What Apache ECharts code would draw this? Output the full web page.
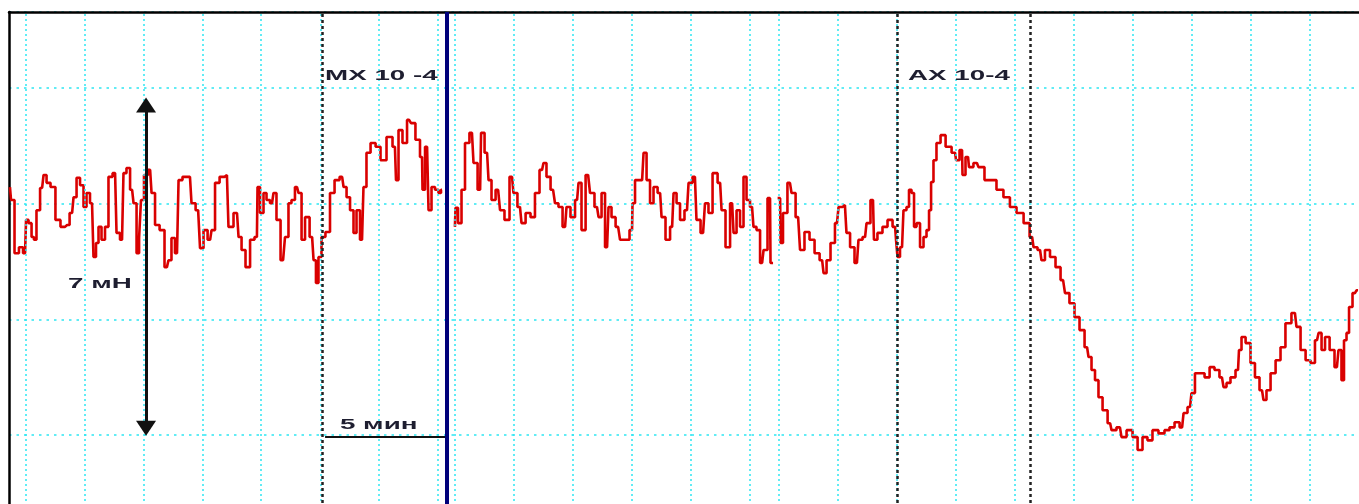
<!DOCTYPE html>
<html><head><meta charset="utf-8">
<script src="https://cdn.jsdelivr.net/npm/echarts@6/dist/echarts.min.js"></script>
<style>html,body{margin:0;padding:0;background:#fff;overflow:hidden;width:1359px;height:504px}#c{width:1359px;height:551px}</style>
</head><body><div id="c"></div>
<script>
// time in minutes, force in mN
const timeA = [
0.04,0.13,0.33,0.5,0.67,0.75,0.88,1.0,1.08,1.21,
1.38,1.5,1.63,1.83,2.04,2.25,2.42,2.63,2.75,2.88,
3.04,3.17,3.29,3.46,3.58,3.67,3.79,3.92,4.08,4.21,
4.42,4.54,4.71,4.83,4.96,5.13,5.25,5.38,5.46,5.54,
5.71,5.88,6.0,6.17,6.38,6.58,6.71,6.83,7.0,7.13,
7.33,7.54,7.67,7.88,8.04,8.17,8.38,8.5,8.67,8.88,
9.08,9.21,9.5,9.63,9.75,9.96,10.13,10.33,10.38,10.54,
10.67,10.79,10.96,11.08,11.21,11.42,11.58,11.71,11.83,12.0,
12.13,12.25,12.42,12.63,12.75,12.83,12.96,13.08,13.29,13.46,
13.67,13.88,14.0,14.13,14.29,14.42,14.54,14.71,14.83,14.96,
15.17,15.38,15.58,15.88,16.08,16.17,16.29,16.5,16.67,16.83,
17.04,17.21,17.25,17.42,17.54,17.67,17.83,17.96,18.04];
const forceA = [
7.86,7.58,6.43,6.56,6.43,7.15,7.08,6.78,6.72,7.36,
7.84,8.12,7.95,7.86,7.15,7.00,7.04,7.30,7.64,8.06,
7.90,7.43,7.73,7.51,6.35,6.65,7.00,6.72,7.00,8.08,
8.16,6.87,6.72,8.16,8.27,7.80,7.51,6.43,6.76,7.58,
8.12,8.23,7.73,7.04,6.93,6.13,6.28,6.76,6.43,8.01,
8.08,8.08,7.51,7.36,6.54,6.93,6.72,6.93,7.95,8.08,
8.12,7.00,7.30,6.78,6.50,6.13,6.72,6.78,7.86,7.30,
7.73,7.58,7.51,7.73,7.15,6.28,6.78,7.51,7.58,7.86,
7.73,6.72,7.21,6.78,6.28,5.79,6.35,6.78,6.89,7.73,
8.01,8.08,7.86,7.64,7.36,6.87,7.36,6.72,7.86,8.60,
8.81,8.73,8.44,8.94,8.73,8.01,9.09,8.81,9.31,9.24,
8.88,8.51,7.80,8.73,7.36,7.86,7.80,7.73,7.80];
const timeB = [
18.58,18.63,18.79,18.92,19.08,19.29,19.42,19.63,19.71,19.92,
20.04,20.17,20.38,20.54,20.75,20.96,21.08,21.29,21.42,21.63,
21.83,22.0,22.21,22.33,22.46,22.67,22.83,22.96,23.17,23.29,
23.5,23.67,23.79,23.92,24.13,24.29,24.5,24.63,24.75,24.92,
25.04,25.17,25.38,25.54,25.75,25.96,26.0,26.17,26.38,26.5,
26.63,26.79,26.92,27.13,27.25,27.46,27.63,27.75,27.88,28.04,
28.25,28.38,28.58,28.71,28.92,29.08,29.21,29.42,29.63,29.75,
29.96,30.13,30.25,30.38,30.54,30.67,30.79,30.96,31.08,31.21,
31.38,31.5,31.71,31.75,31.92,32.13,32.17,32.33,32.54,32.67,
32.88,33.04,33.25,33.46,33.67,33.88,34.0,34.13,34.33,34.5,
34.63,34.83,34.96,35.13,35.33,35.46,35.67,35.79,36.0,36.08,
36.29,36.5,36.71,36.92,37.0,37.04,37.21,37.33,37.46,37.54,
37.67,37.75,37.88,38.04,38.17,38.29,38.38,38.46,38.58,38.71,
38.92,39.13,39.42,39.5,39.71,39.75,39.96,40.04,40.33,40.46,
40.54,40.75,41.0,41.29,41.58,41.83,42.13,42.42,42.63,42.75,
42.96,43.08,43.25,43.5,43.71,43.92,44.08,44.29,44.5,44.71,
44.92,45.04,45.17,45.33,45.46,45.67,45.88,46.0,46.29,46.42,
46.71,46.92,47.13,47.33,47.54,47.75,48.04,48.25,48.46,48.67,
48.88,49.0,49.21,49.33,49.5,49.71,49.92,50.13,50.33,50.54,
50.67,50.79,51.0,51.21,51.29,51.42,51.63,51.83,52.0,52.21,
52.33,52.46,52.67,52.88,53.08,53.29,53.58,53.71,53.92,54.13,
54.33,54.5,54.63,54.75,54.92,55.13,55.33,55.46,55.58,55.67,
55.79,55.88,56.08,56.21];
const forceB = [
7.00,7.41,7.08,7.80,8.81,9.03,8.38,7.80,9.03,8.60,
8.01,7.58,7.80,7.36,7.15,8.08,7.73,7.43,7.08,7.30,
7.21,7.73,8.23,8.38,8.08,7.80,7.51,7.43,7.00,7.43,
7.21,7.58,7.95,6.93,8.12,7.73,7.43,7.21,7.73,6.56,
7.43,7.21,7.00,6.72,6.72,6.93,7.51,8.01,8.01,8.60,
8.01,7.51,7.86,7.73,7.21,6.72,7.00,7.73,7.51,7.15,
7.36,7.95,8.08,7.15,6.87,7.51,7.30,8.16,7.95,7.36,
6.56,7.51,6.87,7.36,7.00,8.08,7.58,7.43,7.00,6.93,
6.22,6.50,7.62,6.22,null,7.62,6.65,7.30,7.95,7.73,
7.21,6.50,6.89,6.72,6.43,6.28,6.00,6.28,6.65,7.08,
7.43,7.47,6.87,6.56,6.22,6.72,6.78,7.08,7.58,6.72,
6.87,7.00,7.15,7.00,6.72,6.35,6.56,7.36,7.43,7.80,
7.73,7.00,7.08,6.56,6.78,6.93,7.36,7.97,8.44,8.81,
8.98,8.73,8.60,8.44,8.66,8.12,8.51,8.29,8.38,8.29,
8.29,8.01,8.01,7.80,7.64,7.43,7.30,7.08,6.78,6.56,
6.50,6.28,6.50,6.35,6.13,5.85,5.57,5.35,5.05,4.77,
4.40,4.19,3.91,3.69,3.32,3.04,2.76,2.61,2.67,2.46,
2.61,2.46,2.18,2.46,2.39,2.61,2.54,2.61,2.67,2.78,
2.67,2.98,3.11,3.41,3.84,3.84,3.75,3.97,3.91,3.75,
3.54,3.63,3.75,3.91,4.34,4.62,4.49,4.06,3.75,3.47,
3.26,3.47,3.84,4.12,4.40,4.92,5.14,4.84,4.34,4.12,
4.06,4.55,4.71,4.34,4.62,4.34,3.97,4.34,3.69,4.55,
4.71,5.27,5.57,5.63];
// chart-paper vertical rulings (minutes)
const gridTimes = [0.71,3.17,5.63,8.08,10.5,13.0,15.42,17.88,18.58,21.04,23.5,25.96,28.42,30.88,32.08,34.54,37.0,39.46,41.92,44.38,46.83,49.29,51.75,54.21];
// event markers (minutes)
const eventTimes = [13.04, 37.0, 42.54];
const eventLabels = ['MX 10 -4', 'AX 10-4'];
const washoutTime = 18.23;
// calibration bars
const forceScale = {t: 5.71, from: 2.65, to: 9.63, label: '7 мН'};
const timeScale = {v: 2.46, from: 13.17, to: 18.17, label: '5 мин'};

const chart = echarts.init(document.getElementById('c'));
const pairs = (ts, vs) => ts.map((t, i) => [t, vs[i]]);
const RED = '#d90000';
const txtFont = 'bold 15px "Liberation Sans", Arial, sans-serif';

chart.setOption({
  animation: false,
  grid: {left: 9, right: 0, top: 12, bottom: 0, containLabel: false},
  xAxis: {
    type: 'value', min: 0, max: 56.25, position: 'top',
    axisLine: {show: true, onZero: false, lineStyle: {color: '#000', width: 2.5}},
    axisTick: {show: false}, axisLabel: {show: false}, splitLine: {show: false}
  },
  yAxis: {
    type: 'value', min: 0, max: 11.64, interval: 2.5,
    axisLine: {show: true, onZero: false, lineStyle: {color: '#000', width: 2.5}},
    axisTick: {show: false}, axisLabel: {show: false},
    splitLine: {show: true, lineStyle: {color: '#2ee6f2', width: 1.5, type: [2.5, 5]}}
  },
  series: [
    {
      type: 'line', data: [], z: 1, silent: true,
      markLine: {
        silent: true, symbol: 'none', animation: false, label: {show: false},
        lineStyle: {color: '#2ee6f2', width: 1.5, type: [2, 3]},
        data: gridTimes.map(t => ({xAxis: t}))
      }
    },
    {
      type: 'line', data: pairs(timeA, forceA), z: 3, showSymbol: false, symbol: 'none', step: 'middle',
      lineStyle: {color: RED, width: 2.6}, silent: true
    },
    {
      type: 'line', data: pairs(timeB, forceB), z: 3, showSymbol: false, symbol: 'none', step: 'middle',
      lineStyle: {color: RED, width: 2.6}, silent: true
    },
    {
      type: 'line', data: [], z: 5, silent: true,
      markLine: {
        silent: true, symbol: 'none', animation: false, label: {show: false},
        lineStyle: {color: '#222', width: 2.5, type: [3, 3]},
        data: eventTimes.map(t => ({xAxis: t}))
      }
    },
    {
      type: 'line', data: [], z: 5, silent: true,
      markLine: {
        silent: true, symbol: 'none', animation: false, label: {show: false},
        lineStyle: {color: '#00007a', width: 4, type: 'solid'},
        data: [{xAxis: washoutTime}]
      }
    },
    {
      type: 'line', data: [], z: 6, silent: true,
      markLine: {
        silent: true, animation: false, label: {show: false},
        symbol: ['triangle', 'triangle'], symbolSize: [20, 15],
        lineStyle: {color: '#111', width: 3, type: 'solid'},
        data: [[{coord: [forceScale.t, forceScale.from]}, {coord: [forceScale.t, forceScale.to]}]]
      }
    },
    {
      type: 'line', data: [], z: 6, silent: true,
      markLine: {
        silent: true, animation: false, label: {show: false}, symbol: 'none',
        lineStyle: {color: '#111', width: 2, type: 'solid'},
        data: [[{coord: [timeScale.from, timeScale.v]}, {coord: [timeScale.to, timeScale.v]}]]
      }
    }
  ]
});

// text annotations anchored in data space
const notes = [
  {text: eventLabels[0], at: [13.17, 10.26]},
  {text: eventLabels[1], at: [37.46, 10.27]},
  {text: forceScale.label, at: [2.46, 5.77]},
  {text: timeScale.label, at: [13.79, 2.72]}
];
chart.setOption({
  graphic: notes.map(n => {
    const p = chart.convertToPixel({gridIndex: 0}, n.at);
    return {
      type: 'text', x: p[0], y: p[1], scaleX: 1.85, scaleY: 1, z: 100, silent: true,
      style: {text: n.text, font: txtFont, fill: '#1e1e30', align: 'left', verticalAlign: 'middle'}
    };
  })
});
</script>
</body></html>
